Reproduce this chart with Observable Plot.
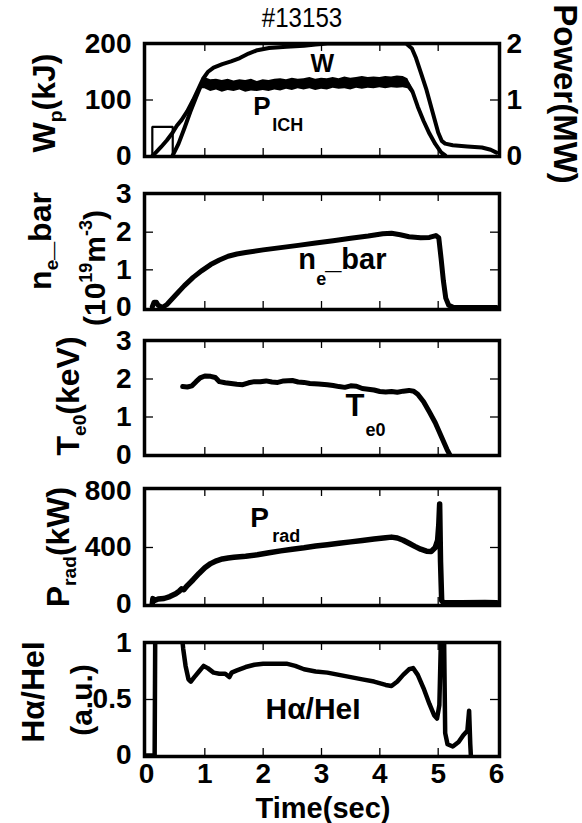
<!DOCTYPE html>
<html><head><meta charset="utf-8">
<script src="https://cdn.jsdelivr.net/npm/d3@7"></script>
<script src="https://cdn.jsdelivr.net/npm/@observablehq/plot@0.6"></script>
<style>
body{margin:0;background:#fff;}
#fig{position:relative;width:582px;height:823px;overflow:hidden;font-family:"Liberation Sans",Arial,sans-serif;color:#000;background:#fff;}
#fig svg{position:absolute;left:0;}
.lab{position:absolute;white-space:nowrap;font-weight:bold;line-height:1;}
.lab sub{font-size:0.6em;vertical-align:-0.35em;line-height:0;}
.lab sup{font-size:0.6em;vertical-align:0.7em;line-height:0;}
</style></head><body><div id="fig"></div>
<script>
// ---------- data (time in s) ----------
const xTickValues = [1, 2, 3, 4, 5];
const xTickLabels = [0, 1, 2, 3, 4, 5, 6];

// Panel 1: stored energy W (kJ)
const wpTime = [0.1,0.15,0.25,0.35,0.45,0.52,0.6,0.7,0.8,0.9,0.97,1.05,1.15,1.3,1.45,1.6,1.75,1.9,2.1,2.4,2.7,2.9,3.1,3.5,4.0,4.45,4.55,4.62,4.7,4.8,4.9,5.0,5.06,5.12,5.25,5.5,5.75,5.9,6.0];
const wpKJ   = [0,5,16,28,42,54,64,80,100,122,138,150,158,164,169,175,183,189,193,195,197,199,201,201,201,201,192,175,150,118,80,42,27,22,19,17,15,11,6];
// Panel 1: ICH power (MW), noisy band low/high envelope
const ichTime = [0.45,0.55,0.65,0.75,0.85,0.93,
  1.0,1.1,1.2,1.3,1.4,1.5,1.6,1.7,1.8,1.9,2.0,2.1,2.2,2.3,2.4,2.5,2.6,2.7,2.8,2.9,3.0,3.1,3.2,3.3,3.4,3.5,3.6,3.7,3.8,3.9,4.0,4.1,4.2,4.3,4.4,
  4.48,4.56,4.65,4.75,4.85,4.95,5.05,5.12];
const ichLow = [0,0.2,0.47,0.76,1.02,1.2,
  1.2,1.15,1.18,1.14,1.17,1.15,1.18,1.14,1.16,1.15,1.17,1.15,1.18,1.16,1.19,1.17,1.2,1.18,1.2,1.17,1.19,1.18,1.21,1.19,1.2,1.18,1.21,1.19,1.21,1.2,1.22,1.2,1.22,1.21,1.22,
  1.2,1.1,0.84,0.59,0.37,0.19,0.04,0];
const ichHigh = [0.02,0.24,0.52,0.81,1.08,1.3,
  1.4,1.36,1.37,1.35,1.37,1.34,1.36,1.35,1.37,1.33,1.36,1.35,1.37,1.38,1.36,1.39,1.37,1.38,1.4,1.37,1.39,1.38,1.4,1.38,1.41,1.39,1.4,1.42,1.4,1.41,1.4,1.42,1.41,1.43,1.42,
  1.38,1.2,0.92,0.66,0.43,0.24,0.09,0.02];
// Panel 1: early square pulse (MW)
const pulseTime = [0.1,0.1,0.45,0.45];
const pulseMW   = [0,0.52,0.52,0];

// Panel 2: line-averaged density (1e19 m^-3)
const neTime = [0.1,0.13,0.17,0.2,0.27,0.35,0.5,0.65,0.8,0.95,1.1,1.25,1.4,1.55,1.7,2.0,2.3,2.6,2.9,3.2,3.5,3.8,4.05,4.2,4.35,4.5,4.7,4.85,4.96,5.01,5.05,5.09,5.13,5.18,5.25,5.5,6.0];
const neVal  = [0.02,0.14,0.14,0.06,0.0,0.08,0.33,0.58,0.8,0.98,1.14,1.26,1.36,1.42,1.46,1.53,1.59,1.65,1.71,1.77,1.84,1.9,1.96,1.97,1.93,1.88,1.85,1.86,1.91,1.85,1.3,0.7,0.25,0.06,0.01,0,0];

// Panel 3: central electron temperature (keV)
const teTime = [0.62,0.7,0.78,0.85,0.92,1.0,1.1,1.18,1.25,1.35,1.45,1.55,1.65,1.75,1.85,1.95,2.05,2.15,2.25,2.35,2.5,2.6,2.7,2.8,2.95,3.1,3.2,3.3,3.4,3.5,3.6,3.7,3.8,3.9,4.0,4.1,4.2,4.3,4.4,4.5,4.58,4.65,4.75,4.85,4.95,5.05,5.15,5.2];
const teKeV  = [1.8,1.79,1.82,1.93,2.03,2.08,2.07,2.04,1.93,1.9,1.88,1.86,1.85,1.9,1.93,1.93,1.95,1.92,1.91,1.95,1.96,1.92,1.91,1.88,1.87,1.85,1.83,1.8,1.78,1.82,1.81,1.75,1.73,1.71,1.67,1.66,1.67,1.65,1.68,1.7,1.68,1.6,1.4,1.13,0.85,0.5,0.15,0];

// Panel 4: radiated power (kW)
const prTime = [0.1,0.11,0.14,0.2,0.3,0.4,0.5,0.56,0.6,0.64,0.7,0.8,0.9,1.0,1.1,1.2,1.3,1.4,1.5,1.7,1.9,2.1,2.3,2.5,2.7,2.9,3.1,3.3,3.5,3.7,3.9,4.1,4.2,4.3,4.4,4.5,4.6,4.7,4.8,4.88,4.95,4.99,5.01,5.025,5.04,5.06,5.1,5.4,5.8,6.0];
const prKW   = [0,35,22,32,36,50,70,88,105,98,128,170,215,255,285,305,318,325,330,338,348,362,376,388,398,410,420,430,440,450,460,470,474,468,452,430,408,388,374,372,400,450,560,710,300,20,5,5,8,5];

// Panel 5: H-alpha / HeI ratio (a.u.)
const haTime = [0,0.14,0.15,0.6,0.63,0.67,0.72,0.76,0.82,0.9,0.98,1.05,1.15,1.25,1.35,1.42,1.46,1.55,1.7,1.85,2.0,2.2,2.4,2.55,2.7,2.9,3.1,3.3,3.5,3.7,3.9,4.1,4.2,4.3,4.4,4.5,4.57,4.65,4.75,4.85,4.93,4.98,5.02,5.05,5.1,5.12,5.16,5.25,5.35,5.43,5.5,5.53,5.55,5.56];
const haVal  = [0,0,1.1,1.1,0.95,0.8,0.68,0.66,0.7,0.75,0.8,0.78,0.74,0.73,0.73,0.7,0.74,0.76,0.79,0.81,0.82,0.82,0.82,0.8,0.77,0.75,0.74,0.72,0.7,0.68,0.66,0.63,0.62,0.66,0.72,0.77,0.78,0.72,0.6,0.46,0.36,0.33,0.45,1.1,1.1,0.2,0.1,0.08,0.12,0.18,0.22,0.4,0.1,0];

// y tick values
const wTicks = [0, 100, 200];
const mwTicks = [0, 1, 2];
const neTicks = [0, 1, 2, 3];
const teTicks = [0, 1, 2, 3];
const prTicks = [0, 400, 800];
const haTicks = [0, 0.5, 1];

// ---------- helpers ----------
const pts = (t, v) => t.map((x, i) => ({t: x, v: v[i]}));
const fig = document.getElementById("fig");
const FW = 582, ML = 144, MR = 83, PW = FW - ML - MR;
const X_DOMAIN = [-0.034, 6.051];
const FONT = "'Liberation Sans', Arial, Helvetica, sans-serif";
const fmt = d => String(d);

function panel({top, bottom, yDomain, marks, mt = 24, mb = 24, xAxis = false}) {
  const h = bottom - top;
  const svg = Plot.plot({
    width: FW, height: h + mt + mb,
    marginTop: mt, marginBottom: mb, marginLeft: ML, marginRight: MR,
    style: {background: "transparent", fontFamily: FONT, fontSize: "28px", fontWeight: "bold", color: "black", overflow: "visible"},
    x: xAxis ? {domain: X_DOMAIN} : {domain: X_DOMAIN, axis: null},
    y: {domain: yDomain},
    marks
  });
  svg.style.position = "absolute";
  svg.style.top = (top - mt) + "px";
  svg.style.left = "0px";
  fig.appendChild(svg);
}
function edgeTicks(h, yVals, left = true, right = true) {
  const m = [
    Plot.tickX(xTickValues, {x: d => d, insetTop: h - 8, strokeWidth: 1.3}),
    Plot.tickX(xTickValues, {x: d => d, insetBottom: h - 8, strokeWidth: 1.3})
  ];
  if (left) m.push(Plot.tickY(yVals, {y: d => d, insetRight: PW - 9, strokeWidth: 1.3}));
  if (right) m.push(Plot.tickY(yVals, {y: d => d, insetLeft: PW - 9, strokeWidth: 1.3}));
  return m;
}
const leftAxis = (vals) => Plot.axisY(vals, {anchor: "left", tickSize: 0, tickPadding: 13, label: null, tickFormat: fmt});
const inner = (txt, x, y, size, extra = {}) => Plot.text([txt], {x, y, text: d => d, textAnchor: "start", fontSize: size, fontWeight: "bold", ...extra});

// ---------- Panel 1 (W, kJ) ----------
panel({top: 43, bottom: 156, yDomain: [-1, 201], marks: [
  Plot.line(pts(wpTime, wpKJ), {x: "t", y: "v", strokeWidth: 4, clip: true}),
  inner("W", 2.81, 165, 25),
  ...edgeTicks(113, [100], true, false),
  leftAxis(wTicks),
  Plot.frame({strokeWidth: 3.5})
]});
// Panel 1 overlay (P_ICH, MW, right axis)
panel({top: 43, bottom: 156, yDomain: [-0.01, 2.01], marks: [
  Plot.areaY(ichTime.map((t, i) => ({t, lo: ichLow[i], hi: ichHigh[i]})), {x: "t", y1: "lo", y2: "hi", fill: "black", clip: true}),
  Plot.line(ichTime.map((t, i) => ({t, v: (ichLow[i] + ichHigh[i]) / 2})), {x: "t", y: "v", strokeWidth: 4, clip: true}),
  Plot.line(pts(pulseTime, pulseMW), {x: "t", y: "v", strokeWidth: 2.2, strokeLinejoin: "miter", clip: true}),
  inner("P", 1.83, 0.88, 26),
  inner("ICH", 1.83, 0.88, 18, {dx: 19, dy: 19}),
  Plot.tickY([1], {y: d => d, insetLeft: PW - 9, strokeWidth: 1.3}),
  Plot.axisY(mwTicks, {anchor: "right", tickSize: 0, tickPadding: 7, label: null, tickFormat: fmt})
]});

// ---------- Panel 2 (n_e bar) ----------
panel({top: 193, bottom: 309, yDomain: [-0.053, 3.027], marks: [
  Plot.line(pts(neTime, neVal), {x: "t", y: "v", strokeWidth: 5, clip: true}),
  inner("n", 2.6, 1.27, 29),
  inner("e", 2.6, 1.27, 18, {dx: 18, dy: 20}),
  inner("_bar", 2.6, 1.27, 29, {dx: 27}),
  ...edgeTicks(116, [1, 2]),
  leftAxis(neTicks),
  Plot.frame({strokeWidth: 3.5})
]});

// ---------- Panel 3 (T_e0) ----------
panel({top: 340, bottom: 455, yDomain: [-0.013, 3.013], marks: [
  Plot.line(pts(teTime, teKeV), {x: "t", y: "v", strokeWidth: 5, clip: true}),
  inner("T", 3.41, 1.29, 31),
  inner("e0", 3.41, 1.29, 18, {dx: 20, dy: 24}),
  ...edgeTicks(115, [1, 2]),
  leftAxis(teTicks),
  Plot.frame({strokeWidth: 3.5})
]});

// ---------- Panel 4 (P_rad) ----------
panel({top: 488, bottom: 605, yDomain: [-14, 821], marks: [
  Plot.line(pts(prTime, prKW), {x: "t", y: "v", strokeWidth: 5.5, clip: true}),
  inner("P", 1.78, 607, 28),
  inner("rad", 1.78, 607, 18, {dx: 22, dy: 18}),
  ...edgeTicks(117, [400]),
  leftAxis(prTicks),
  Plot.frame({strokeWidth: 3.5})
]});

// ---------- Panel 5 (H-alpha / HeI) ----------
panel({top: 642, bottom: 756, yDomain: [-0.009, 1.009], mb: 40, xAxis: true, marks: [
  Plot.line(pts(haTime, haVal), {x: "t", y: "v", strokeWidth: 4.5, clip: true}),
  inner("H\u03b1/HeI", 2.04, 0.416, 30),
  ...edgeTicks(114, [0.5]),
  leftAxis(haTicks),
  Plot.axisX(xTickLabels, {anchor: "bottom", tickSize: 0, tickPadding: 7, label: null, tickFormat: fmt}),
  Plot.frame({strokeWidth: 3.5})
]});

// ---------- HTML titles ----------
function label(html, cx, cy, size, rot = -90, weight = "bold", sx = 1) {
  const d = document.createElement("div");
  d.className = "lab";
  d.innerHTML = html;
  d.style.left = cx + "px";
  d.style.top = cy + "px";
  d.style.fontSize = size + "px";
  d.style.fontWeight = weight;
  d.style.transform = `translate(-50%,-50%) rotate(${rot}deg) scaleX(${sx})`;
  fig.appendChild(d);
}
label("#13153", 302, 18, 28, 0, "normal", 0.86);
label("W<sub>p</sub>(kJ)", 44, 103, 32);
label("Power(MW)", 565, 94, 33, 90);
label("n<sub>e</sub>_bar", 40, 241, 32);
label("(10<sup>19</sup>m<sup>-3</sup>)", 95, 268, 30);
label("T<sub>e0</sub>(keV)", 68, 396, 32);
label("P<sub>rad</sub>(kW)", 58, 547, 32);
label("H\u03b1/HeI", 33, 692, 32);
label("(a.u.)", 82, 700, 30);
label("Time(sec)", 323, 808, 29, 0);
</script>
</body></html>
